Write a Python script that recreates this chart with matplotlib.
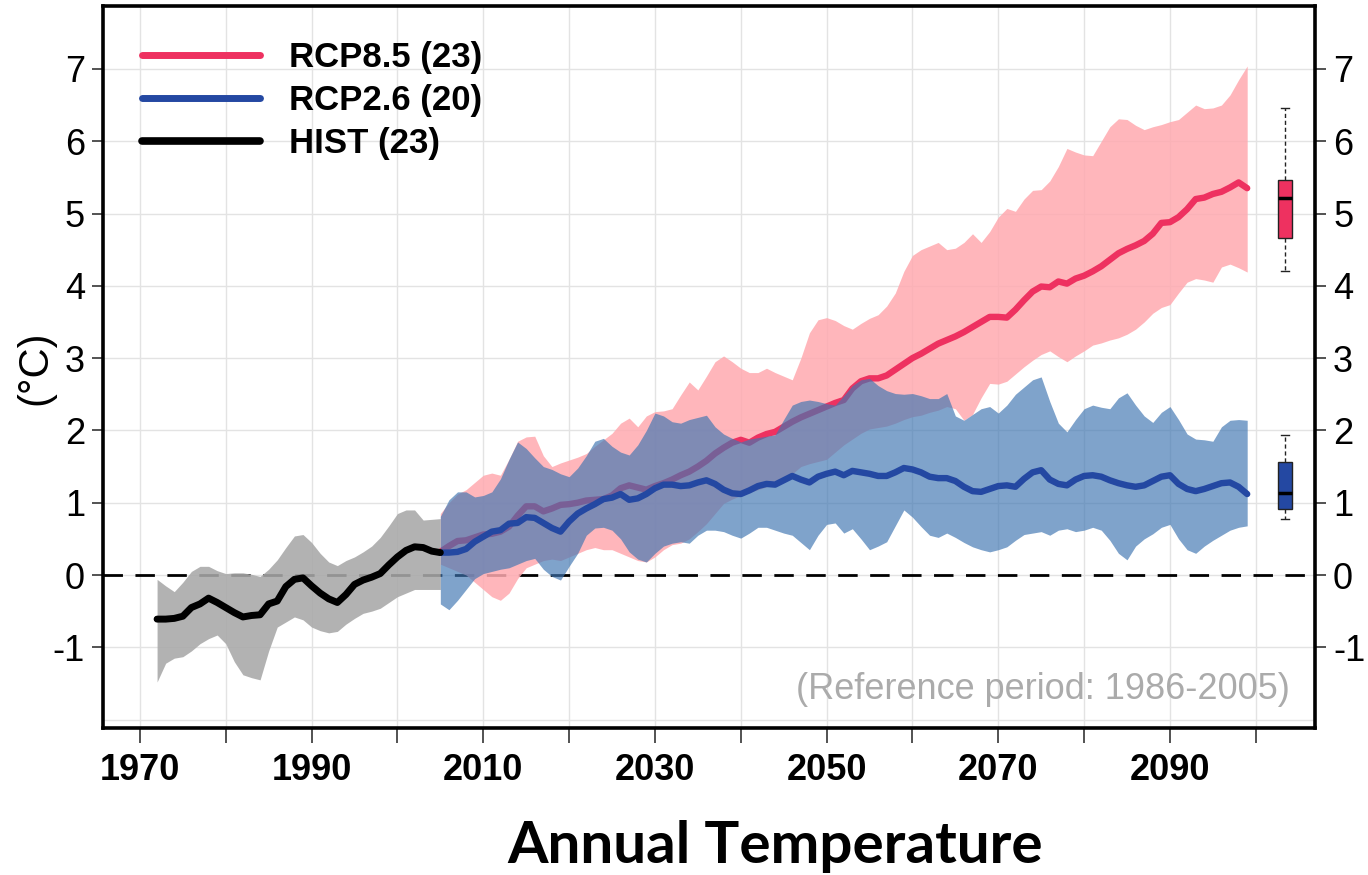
import numpy as np
import matplotlib
matplotlib.use("Agg")
import matplotlib.pyplot as plt
from matplotlib.lines import Line2D

# historical run, 1972-2005
hist_years = np.arange(1972, 2006)
hist_mean = [-0.61, -0.61, -0.60, -0.57, -0.45, -0.40, -0.32, -0.38, -0.45, -0.52,
             -0.58, -0.56, -0.55, -0.40, -0.36, -0.16, -0.06, -0.04, -0.15, -0.25,
             -0.33, -0.38, -0.27, -0.13, -0.07, -0.03, 0.02, 0.14, 0.25, 0.34,
             0.39, 0.38, 0.33, 0.31]
hist_low = [-1.48, -1.22, -1.15, -1.13, -1.05, -0.95, -0.88, -0.83, -0.95, -1.20,
            -1.38, -1.42, -1.45, -1.05, -0.72, -0.65, -0.58, -0.62, -0.72, -0.77,
            -0.80, -0.78, -0.68, -0.60, -0.53, -0.50, -0.46, -0.38, -0.30, -0.25,
            -0.20, -0.20, -0.20, -0.20]
hist_high = [-0.06, -0.15, -0.23, -0.10, 0.05, 0.12, 0.12, 0.06, 0.02, 0.03,
             0.03, 0.01, -0.02, 0.08, 0.21, 0.38, 0.54, 0.56, 0.45, 0.30,
             0.18, 0.13, 0.20, 0.25, 0.32, 0.40, 0.52, 0.68, 0.85, 0.90,
             0.90, 0.76, 0.77, 0.78]

# scenario runs, 2005-2099
rcp_years = np.arange(2005, 2100)
rcp85_mean = [0.32, 0.40, 0.47, 0.48, 0.52, 0.56, 0.57, 0.60, 0.67, 0.82,
              0.95, 0.95, 0.88, 0.92, 0.97, 0.98, 1.00, 1.03, 1.04, 1.05,
              1.10, 1.20, 1.24, 1.21, 1.18, 1.23, 1.27, 1.32, 1.38, 1.43,
              1.50, 1.58, 1.68, 1.76, 1.83, 1.87, 1.83, 1.90, 1.95, 1.98,
              2.05, 2.12, 2.18, 2.23, 2.28, 2.33, 2.38, 2.42, 2.58, 2.68,
              2.72, 2.72, 2.76, 2.84, 2.92, 3.00, 3.06, 3.13, 3.20, 3.25,
              3.30, 3.36, 3.43, 3.50, 3.57, 3.57, 3.56, 3.67, 3.80, 3.92,
              3.99, 3.98, 4.06, 4.03, 4.10, 4.14, 4.20, 4.27, 4.36, 4.45,
              4.51, 4.56, 4.62, 4.72, 4.87, 4.88, 4.95, 5.06, 5.20, 5.22,
              5.27, 5.30, 5.36, 5.43, 5.35]
rcp85_low = [0.15, 0.10, 0.05, 0.00, -0.10, -0.20, -0.30, -0.35, -0.25, -0.05,
             0.10, 0.15, 0.20, 0.22, 0.20, 0.25, 0.30, 0.35, 0.38, 0.35,
             0.35, 0.30, 0.25, 0.20, 0.18, 0.25, 0.35, 0.42, 0.44, 0.50,
             0.60, 0.71, 0.85, 0.99, 1.05, 1.10, 1.14, 1.18, 1.22, 1.26,
             1.33, 1.40, 1.50, 1.54, 1.57, 1.60, 1.70, 1.80, 1.88, 1.96,
             2.02, 2.04, 2.06, 2.10, 2.15, 2.19, 2.21, 2.25, 2.28, 2.33,
             2.30, 2.14, 2.22, 2.45, 2.65, 2.64, 2.68, 2.78, 2.88, 2.97,
             3.05, 3.10, 3.02, 2.95, 3.03, 3.10, 3.18, 3.21, 3.25, 3.28,
             3.33, 3.40, 3.50, 3.62, 3.70, 3.74, 3.90, 4.05, 4.10, 4.08,
             4.05, 4.26, 4.30, 4.25, 4.19]
rcp85_high = [0.85, 1.00, 1.12, 1.18, 1.28, 1.38, 1.41, 1.38, 1.60, 1.85,
              1.91, 1.92, 1.65, 1.50, 1.55, 1.59, 1.63, 1.68, 1.78, 1.87,
              1.96, 2.10, 2.17, 2.05, 2.20, 2.26, 2.27, 2.30, 2.49, 2.67,
              2.56, 2.75, 2.95, 3.03, 2.95, 2.86, 2.80, 2.80, 2.86, 2.80,
              2.75, 2.70, 3.00, 3.35, 3.53, 3.56, 3.52, 3.45, 3.40, 3.48,
              3.55, 3.60, 3.72, 3.90, 4.20, 4.42, 4.50, 4.55, 4.60, 4.50,
              4.52, 4.60, 4.72, 4.60, 4.75, 4.95, 5.07, 5.03, 5.20, 5.32,
              5.33, 5.45, 5.65, 5.90, 5.85, 5.81, 5.80, 6.00, 6.20, 6.31,
              6.30, 6.22, 6.16, 6.20, 6.23, 6.27, 6.30, 6.40, 6.50, 6.45,
              6.46, 6.50, 6.64, 6.85, 7.04]
rcp26_mean = [0.31, 0.31, 0.32, 0.36, 0.46, 0.53, 0.60, 0.62, 0.71, 0.72,
              0.80, 0.79, 0.72, 0.65, 0.60, 0.74, 0.85, 0.92, 0.98, 1.05,
              1.07, 1.12, 1.04, 1.06, 1.12, 1.20, 1.25, 1.25, 1.23, 1.24,
              1.28, 1.31, 1.26, 1.18, 1.13, 1.12, 1.17, 1.23, 1.26, 1.25,
              1.31, 1.37, 1.32, 1.28, 1.36, 1.40, 1.43, 1.38, 1.44, 1.42,
              1.40, 1.37, 1.37, 1.42, 1.48, 1.46, 1.42, 1.36, 1.34, 1.34,
              1.30, 1.22, 1.16, 1.15, 1.19, 1.23, 1.24, 1.22, 1.33, 1.42,
              1.45, 1.32, 1.26, 1.24, 1.32, 1.37, 1.38, 1.36, 1.31, 1.27,
              1.24, 1.22, 1.24, 1.30, 1.36, 1.38, 1.26, 1.19, 1.16, 1.19,
              1.23, 1.27, 1.28, 1.22, 1.12]
rcp26_low = [-0.40, -0.48, -0.35, -0.20, -0.05, 0.02, 0.05, 0.08, 0.10, 0.15,
             0.20, 0.23, 0.08, -0.02, -0.07, 0.12, 0.30, 0.55, 0.65, 0.66,
             0.62, 0.50, 0.32, 0.22, 0.18, 0.30, 0.40, 0.44, 0.46, 0.44,
             0.55, 0.62, 0.62, 0.60, 0.55, 0.51, 0.58, 0.66, 0.66, 0.62,
             0.58, 0.55, 0.45, 0.35, 0.55, 0.70, 0.72, 0.58, 0.64, 0.50,
             0.35, 0.40, 0.46, 0.68, 0.90, 0.80, 0.67, 0.55, 0.52, 0.58,
             0.52, 0.45, 0.39, 0.35, 0.32, 0.35, 0.39, 0.48, 0.56, 0.58,
             0.60, 0.55, 0.62, 0.64, 0.60, 0.62, 0.66, 0.62, 0.48, 0.30,
             0.21, 0.40, 0.50, 0.57, 0.66, 0.70, 0.50, 0.35, 0.30, 0.40,
             0.48, 0.55, 0.62, 0.66, 0.68]
rcp26_high = [0.81, 1.04, 1.15, 1.15, 1.08, 1.10, 1.15, 1.33, 1.60, 1.84,
              1.75, 1.62, 1.50, 1.46, 1.40, 1.36, 1.48, 1.65, 1.85, 1.89,
              1.78, 1.70, 1.66, 1.80, 2.00, 2.24, 2.20, 2.12, 2.10, 2.15,
              2.18, 2.21, 2.05, 1.95, 1.89, 1.84, 1.88, 1.90, 1.92, 1.94,
              2.15, 2.35, 2.40, 2.42, 2.40, 2.37, 2.35, 2.48, 2.62, 2.70,
              2.72, 2.62, 2.55, 2.51, 2.50, 2.51, 2.48, 2.44, 2.44, 2.51,
              2.20, 2.14, 2.22, 2.30, 2.33, 2.24, 2.35, 2.50, 2.60, 2.70,
              2.74, 2.40, 2.10, 1.98, 2.15, 2.30, 2.35, 2.32, 2.30, 2.45,
              2.52, 2.35, 2.20, 2.11, 2.25, 2.33, 2.15, 1.95, 1.88, 1.87,
              1.85, 2.05, 2.14, 2.15, 2.14]

# end-of-century spread (box plots)
box_stats_85 = {"whislo": 4.21, "q1": 4.66, "med": 5.22, "q3": 5.46, "whishi": 6.46}
box_stats_26 = {"whislo": 0.77, "q1": 0.91, "med": 1.13, "q3": 1.56, "whishi": 1.93}

legend_labels = ["RCP8.5 (23)", "RCP2.6 (20)", "HIST (23)"]
xtick_years = np.arange(1970, 2101, 10)
xtick_labels = ["1970", "", "1990", "", "2010", "", "2030", "", "2050", "",
                "2070", "", "2090", ""]
ytick_values = np.arange(-1, 8)

red = "#EE3160"
blue = "#2448A2"
sans = ["Liberation Sans", "DejaVu Sans"]

fig = plt.figure(figsize=(13.68, 8.75), dpi=100)
ax = fig.add_axes([103 / 1368, 1 - 728 / 875, 1212 / 1368, 722 / 875])

ax.axhline(0, color="black", lw=2, ls=(0, (7, 4.5)), zorder=1.5)

ax.fill_between(hist_years, hist_low, hist_high, color="#A8A8A8", alpha=0.88, lw=0, zorder=2)
ax.fill_between(rcp_years, rcp85_low, rcp85_high, color="#FFAAB0", alpha=0.85, lw=0, zorder=2)
ax.plot(rcp_years, rcp85_mean, color=red, lw=4.6, solid_capstyle="round",
        solid_joinstyle="round", zorder=3)
ax.fill_between(rcp_years, rcp26_low, rcp26_high, color="#4076B2", alpha=0.67, lw=0, zorder=4)
ax.plot(rcp_years, rcp26_mean, color=blue, lw=4.6, solid_capstyle="round",
        solid_joinstyle="round", zorder=5)
ax.plot(hist_years, hist_mean, color="black", lw=5, solid_capstyle="round",
        solid_joinstyle="round", zorder=5)

for stats, col in [(box_stats_85, red), (box_stats_26, blue)]:
    s = dict(stats, fliers=[])
    ax.bxp([s], positions=[2103.4], widths=1.7, capwidths=0.9, patch_artist=True,
           showfliers=False, manage_ticks=False, zorder=5,
           boxprops=dict(facecolor=col, edgecolor="#222222", lw=1),
           medianprops=dict(color="black", lw=2.5),
           whiskerprops=dict(color="#222222", lw=1, ls=(0, (3, 2))),
           capprops=dict(color="#222222", lw=1))

ax.set_xlim(1965.7, 2106.9)
ax.set_ylim(-2.116, 7.87)
ax.set_xticks(xtick_years)
ax.set_xticklabels(xtick_labels, fontsize=26, fontweight="bold", family=sans)
ax.set_yticks(ytick_values)
ax.set_yticks([-2], minor=True)
ax.set_yticklabels([str(v) for v in ytick_values], fontsize=26, family=sans)
ax.tick_params(axis="y", which="major", direction="out", length=8, width=1.3,
               color="#444444", pad=5, right=True, labelright=True)
ax.tick_params(axis="y", which="minor", length=0)
ax.tick_params(axis="x", direction="out", length=11, width=1.3, color="#444444", pad=7)
ax.grid(True, which="both", color="#E3E3E3", lw=1)
ax.set_axisbelow(True)
for sp in ax.spines.values():
    sp.set_linewidth(2.6)
    sp.set_color("black")

handles = [Line2D([], [], color=red, lw=5, solid_capstyle="round"),
           Line2D([], [], color=blue, lw=5, solid_capstyle="round"),
           Line2D([], [], color="black", lw=5.5, solid_capstyle="round")]
ax.legend(handles, legend_labels, loc="upper left", bbox_to_anchor=(0.032, 0.952),
          frameon=False, borderpad=0, borderaxespad=0, handlelength=3.4,
          handletextpad=0.85, labelspacing=0.3,
          prop=dict(family=sans, weight="bold", size=25))

ax.text(0.979, 0.053, "(Reference period: 1986-2005)", transform=ax.transAxes,
        ha="right", va="center", fontsize=26, color="#ABABAB", family=sans)

fig.text(35 / 1368, 1 - 368 / 875, "(°C)", rotation=90, ha="center", va="center",
         fontsize=30, family=sans)
fig.text(775 / 1368, 1 - 863 / 875, "Annual Temperature", ha="center", va="baseline",
         fontsize=42, fontweight="bold", family=["Lato", "DejaVu Sans"])

fig.savefig("out.png", dpi=100)
